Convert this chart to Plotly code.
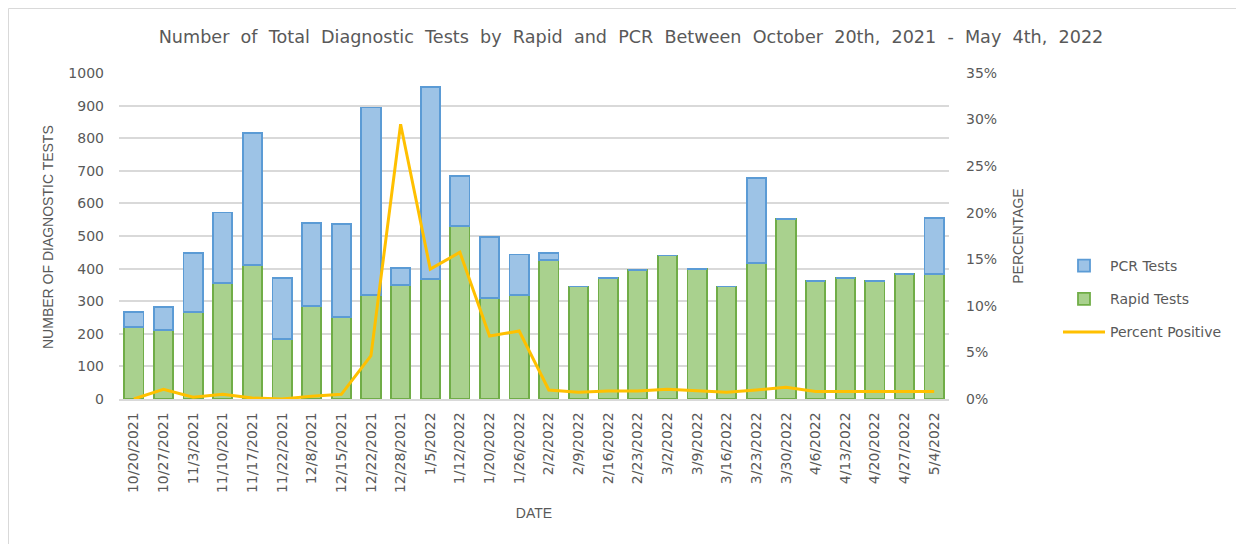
import plotly.graph_objects as go

dates = ["10/20/2021","10/27/2021","11/3/2021","11/10/2021","11/17/2021","11/22/2021","12/8/2021",
         "12/15/2021","12/22/2021","12/28/2021","1/5/2022","1/12/2022","1/20/2022","1/26/2022",
         "2/2/2022","2/9/2022","2/16/2022","2/23/2022","3/2/2022","3/9/2022","3/16/2022","3/23/2022",
         "3/30/2022","4/6/2022","4/13/2022","4/20/2022","4/27/2022","5/4/2022"]
rapid = [222,212,266,355,411,184,286,251,319,350,368,531,309,319,
         426,345,372,395,440,398,345,417,553,363,372,363,384,384]
total = [268,283,447,572,817,372,541,538,894,403,958,685,498,443,
         449,345,372,395,440,398,345,679,553,363,372,363,384,556]
pcr = [t - r for t, r in zip(total, rapid)]
pct_positive = [0.0,1.05,0.2,0.5,0.1,0.0,0.3,0.5,4.65,29.5,13.95,15.75,6.76,7.3,
                0.97,0.72,0.86,0.86,1.04,0.9,0.72,0.97,1.25,0.8,0.8,0.8,0.8,0.8]
pct_frac = [p / 100 for p in pct_positive]

TICKFONT = "DejaVu Sans"
LABFONT = "Liberation Sans"
GRAY = "#595959"

fig = go.Figure()
fig.add_trace(go.Bar(x=dates, y=rapid, name="Rapid Tests", legendrank=2, legendgroup="rapid",
                     marker=dict(color="#a9d18e", line=dict(color="#70ad47", width=1.8))))
fig.add_trace(go.Bar(x=dates, y=pcr, name="PCR Tests", legendrank=1, legendgroup="pcr",
                     marker=dict(color="#9dc3e6", line=dict(color="#5b9bd5", width=1.8))))
fig.add_trace(go.Scatter(x=dates, y=pct_frac, name="Percent Positive", mode="lines",
                         legendrank=3, legendgroup="pct", yaxis="y2",
                         line=dict(color="#ffc000", width=3)))

# page body has an 8px margin; figure coords = window coords - 8
W, H = 1244, 544
L, R, T, B = 111, 303, 65, 153
pw, ph = W - L - R, H - T - B

fig.update_layout(
    width=W, height=H,
    barmode="stack", bargap=0.35,
    plot_bgcolor="white", paper_bgcolor="white",
    margin=dict(l=L, r=R, t=T, b=B, autoexpand=False),
    font=dict(family=TICKFONT, color=GRAY, size=14),
    title=dict(text="Number  of  Total  Diagnostic  Tests  by  Rapid  and  PCR  Between  October  20th,  2021  -  May  4th,  2022",
               x=623 / W, xanchor="center", y=1 - 29 / H, yanchor="middle",
               font=dict(size=17.6, color=GRAY, family=TICKFONT)),
    xaxis=dict(tickangle=-90, showgrid=False, showline=True, linecolor="#d9d9d9", linewidth=1.5,
               ticks="", ticklabelstandoff=6, tickfont=dict(size=14, color=GRAY, family=TICKFONT),
               title=dict(text="DATE", font=dict(size=14, color=GRAY, family=LABFONT), standoff=16)),
    yaxis=dict(range=[0, 1000], dtick=100, showgrid=True, gridcolor="#d9d9d9", gridwidth=1.5,
               zeroline=False, ticks="", ticklabelstandoff=14,
               tickfont=dict(size=14, color=GRAY, family=TICKFONT)),
    yaxis2=dict(range=[0, 0.35], dtick=0.05, tickformat=".0%", overlaying="y", side="right",
                showgrid=False, zeroline=False, ticks="", ticklabelstandoff=16,
                tickfont=dict(size=14, color=GRAY, family=TICKFONT),
                title=dict(text="PERCENTAGE", font=dict(size=14, color=GRAY, family=LABFONT), standoff=17)),
    legend=dict(x=(1050 - L) / pw, y=(H - B - 242) / ph, xanchor="left", yanchor="top",
                traceorder="grouped", tracegroupgap=12, itemwidth=42,
                font=dict(size=14, color=GRAY, family=TICKFONT), bgcolor="rgba(0,0,0,0)"),
    annotations=[dict(text="NUMBER OF DIAGNOSTIC TESTS", textangle=-90, showarrow=False,
                      xref="paper", yref="paper", x=(40 - L) / pw, y=(H - B - 229) / ph,
                      xanchor="center", yanchor="middle",
                      font=dict(size=14, color=GRAY, family=LABFONT))],
    shapes=[dict(type="rect", xref="paper", yref="paper",
                 x0=-(L - 0.5) / pw, x1=1 + (R - 0.5) / pw, y0=-(B - 0.5) / ph, y1=1 + (T - 0.5) / ph,
                 line=dict(color="#d9d9d9", width=1), fillcolor="rgba(0,0,0,0)", layer="below")],
)

fig.write_html("out.html")
